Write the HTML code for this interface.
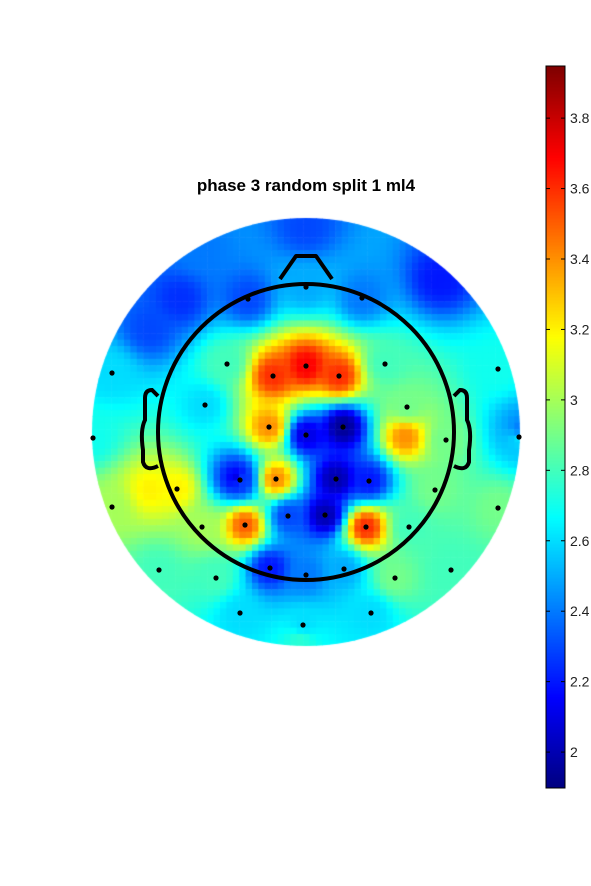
<!DOCTYPE html>
<html><head><meta charset="utf-8"><style>
body{margin:0;background:#fff;width:591px;height:886px;overflow:hidden;font-family:"Liberation Sans",sans-serif}
#wrap{position:relative;width:591px;height:886px}
canvas,svg{position:absolute;left:0;top:0}
</style></head><body>
<div id="wrap">
<canvas id="cv" width="591" height="886"></canvas>
<svg id="sv" width="591" height="886"></svg>
</div>
<script>
// electrode data (pixel positions of sensors, value estimates)
const elecX=[306,248,362,112,227,273,306,339,385,498,205,407,93,269,306,343,446,519,177,240,276,336,369,435,112,202,245,288,325,366,409,498,159,216,270,306,344,395,451,240,303,371,405,150,180,440,237,306,200,150,300,520];
const elecY=[287,299,298,373,364,376,366,376,364,369,405,407,438,427,435,427,440,437,489,480,479,479,481,490,507,527,525,516,515,527,527,508,570,578,568,575,569,578,570,613,625,613,437,490,300,280,478,228,250,330,640,430];
const elecV=[2.5,2.3,2.4,2.6,2.8,3.6,3.7,3.6,2.8,2.7,2.6,2.9,2.7,3.4,2.1,1.95,2.9,2.6,3.2,2.3,3.4,2.0,2.2,2.9,3.0,3.0,3.5,2.3,2.0,3.6,2.8,2.9,2.8,2.8,2.2,2.4,2.5,2.9,2.8,2.6,2.6,2.6,3.4,3.2,2.25,2.2,2.1,2.3,2.4,2.3,2.75,2.4];
const showDot=42; // first 42 are real electrodes
const cbTicks=[2,2.2,2.4,2.6,2.8,3,3.2,3.4,3.6,3.8];
const vmin=1.898,vmax=3.948;
const CX=306,CY=432,R=214;
function jet(t){t=Math.max(0,Math.min(1,t));
 const r=Math.max(0,Math.min(1,1.5-Math.abs(4*t-3))),g=Math.max(0,Math.min(1,1.5-Math.abs(4*t-2))),b=Math.max(0,Math.min(1,1.5-Math.abs(4*t-1)));
 return `rgb(${r*255|0},${g*255|0},${b*255|0})`;}
function interp(x,y){let s=0,w=0;for(let i=0;i<elecX.length;i++){const d2=(x-elecX[i])**2+(y-elecY[i])**2+1;const wi=1/Math.pow(d2,1.5);s+=wi*elecV[i];w+=wi;}return s/w;}
const cv=document.getElementById('cv'),ctx=cv.getContext('2d');
ctx.save();ctx.beginPath();ctx.arc(CX,CY,R,0,Math.PI*2);ctx.clip();
const cs=6.4;
for(let gx=CX-R;gx<CX+R;gx+=cs)for(let gy=CY-R;gy<CY+R;gy+=cs){
 const v=interp(gx+cs/2,gy+cs/2);ctx.fillStyle=jet((v-vmin)/(vmax-vmin));ctx.fillRect(gx,gy,cs+0.6,cs+0.6);}
ctx.restore();
// colorbar
const cbX=546,cbW=19,cbT=66,cbB=788;
for(let y=cbT;y<cbB;y++){ctx.fillStyle=jet(1-(y-cbT)/(cbB-cbT));ctx.fillRect(cbX,y,cbW,1);}
const NS='http://www.w3.org/2000/svg',sv=document.getElementById('sv');
function mk(t,a,name){const e=document.createElementNS(NS,t);for(const k in a)e.setAttribute(k,a[k]);
 
 
 sv.appendChild(e);return e;}
function yv(v){return cbB-(v-vmin)/(vmax-vmin)*(cbB-cbT);}
mk('rect',{x:cbX,y:cbT,width:cbW,height:cbB-cbT,fill:'none',stroke:'#000','stroke-width':1},'colorbar-frame');
cbTicks.forEach(v=>{const y=yv(v);
 mk('line',{x1:cbX,x2:cbX+4,y1:y,y2:y,stroke:'#000'},'colorbar-tick');
 mk('line',{x1:cbX+cbW-4,x2:cbX+cbW,y1:y,y2:y,stroke:'#000'},'colorbar-tick');
 const t=mk('text',{x:570,y:y+5,'font-size':14,fill:'#222'},'colorbar-tick-label');t.textContent=String(v);});
// head
mk('circle',{cx:CX,cy:CY,r:148,fill:'none',stroke:'#000','stroke-width':4},'head-outline');
mk('path',{d:'M280,279 L296,256 L316,256 L332,279',fill:'none',stroke:'#000','stroke-width':4,'stroke-linejoin':'round'},'nose');
mk('path',{d:'M158,396 L152,390 Q145,390 145,398 L145,420 Q140,430 143,450 L143,462 Q146,472 158,466',fill:'none',stroke:'#000','stroke-width':4},'left-ear');
mk('path',{d:'M454,396 L460,390 Q467,390 467,398 L467,420 Q472,430 469,450 L469,462 Q466,472 454,466',fill:'none',stroke:'#000','stroke-width':4},'right-ear');
for(let i=0;i<showDot;i++)mk('circle',{cx:elecX[i],cy:elecY[i],r:2.6,fill:'#000'},'electrode');
const tt=mk('text',{x:306,y:191,'font-size':17,'font-weight':'bold','text-anchor':'middle',fill:'#000'},'chart-title');tt.textContent='phase 3 random split 1 ml4';
</script>
</body></html>
